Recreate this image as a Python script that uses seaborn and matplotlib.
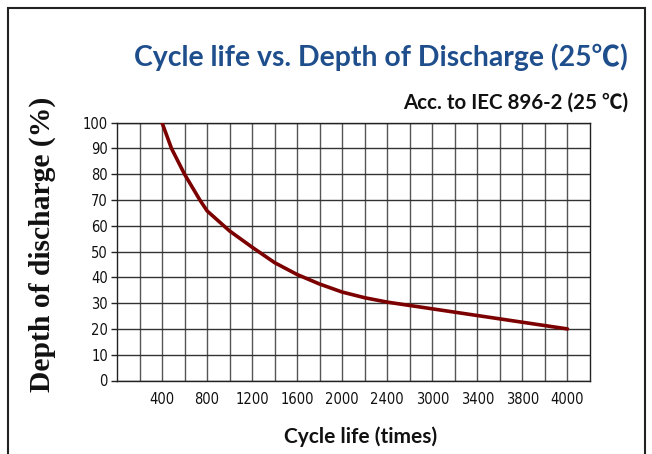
import numpy as np
import matplotlib
matplotlib.use("Agg")
import matplotlib.pyplot as plt
from matplotlib.patches import Rectangle
from matplotlib.ticker import FixedLocator, NullFormatter
import seaborn as sns

# ---- data ----
cycles = [400, 484, 600, 736, 800, 1000, 1200, 1400, 1600, 1800, 2000, 2200,
          2400, 2700, 3000, 3200, 3400, 3600, 3800, 3900, 4000]
dod = [100, 90, 80, 70, 65.8, 58, 51.7, 45.7, 41.1, 37.4, 34.3, 32.1,
       30.4, 29.1, 27.8, 26.5, 25.2, 23.9, 22.6, 21.3, 20]
x_ticks = [400, 800, 1200, 1600, 2000, 2400, 3000, 3400, 3800, 4000]
y_ticks = [0, 10, 20, 30, 40, 50, 60, 70, 80, 90, 100]

# axis scale: the chart's x axis is piecewise (grid columns of unequal width)
scale_cycles = [0, 2400, 3000, 3400, 3800, 4000, 4100]
scale_cols = [0, 12, 14, 16, 18, 20, 21]

def fwd(v):
    return np.interp(v, scale_cycles, scale_cols)

def inv(v):
    return np.interp(v, scale_cols, scale_cycles)

sns.set_theme(style="white")
plt.rcParams['font.family'] = ['DejaVu Sans']

W, H = 652, 454
fig = plt.figure(figsize=(W / 100, H / 100), dpi=100)
fig.patch.set_facecolor("white")

L, R, B, T = 117, 590, 380.5, 122.7
ax = fig.add_axes([L / W, 1 - B / H, (R - L) / W, (B - T) / H])

sns.lineplot(x=cycles, y=dod, ax=ax, color="#7c0000", linewidth=2.6,
             sort=False, zorder=5)

ax.set_xscale('function', functions=(fwd, inv))
ax.set_xlim(0, 4100)
ax.set_ylim(0, 100)

ax.xaxis.set_major_locator(FixedLocator(x_ticks))
ax.xaxis.set_minor_locator(FixedLocator(list(inv(np.arange(1, 21)))))
ax.xaxis.set_minor_formatter(NullFormatter())
ax.set_xticklabels([str(v) for v in x_ticks])
ax.set_yticks(y_ticks)
ax.set_yticklabels([str(v) for v in y_ticks])

tick_font = ['Liberation Sans Narrow', 'DejaVu Sans']
for lab in ax.get_xticklabels() + ax.get_yticklabels():
    lab.set_fontfamily(tick_font)
    lab.set_fontstretch('condensed')
    lab.set_fontsize(10.5)
    lab.set_color("#111111")

ax.tick_params(axis='x', which='both', length=0, pad=8)
ax.tick_params(axis='y', which='major', length=4.5, width=1.0, color="#222222",
               pad=2, left=True)

ax.grid(True, which='both', axis='x', color="#555555", linewidth=1.0)
ax.grid(True, which='major', axis='y', color="#333333", linewidth=1.0)
for s in ax.spines.values():
    s.set_color("#222222")
    s.set_linewidth(1.0)
ax.set_xlabel("")
ax.set_ylabel("")

# texts
fig.text(381 / W, 1 - 57 / H, "Cycle life vs. Depth of Discharge (25℃)",
         ha='center', va='center', fontsize=20.4, fontweight='bold',
         color="#1F4E8C", family=['Lato', 'Noto Sans CJK SC', 'DejaVu Sans'])
fig.text(628 / W, 1 - 103 / H, "Acc. to IEC 896-2 (25 ℃)",
         ha='right', va='center', fontsize=14.8, fontweight='bold',
         color="#111111", family=['Lato', 'Noto Sans CJK SC', 'DejaVu Sans'])
fig.text(361 / W, 1 - 437 / H, "Cycle life (times)",
         ha='center', va='center', fontsize=15, fontweight='bold',
         color="#111111", family=['Lato', 'DejaVu Sans'])
fig.text(42 / W, 1 - 244 / H, "Depth of discharge (%)",
         ha='center', va='center', rotation=90, fontsize=21.3,
         fontweight='bold', color="#111111",
         family=['Liberation Serif', 'DejaVu Serif'])

# outer frame
fig.patches.append(Rectangle((8 / W, -0.05), (645 - 8) / W, 1.05 - 8 / H,
                             transform=fig.transFigure, fill=False,
                             edgecolor="#222222", linewidth=1.5))

fig.savefig("out.png", dpi=100, facecolor="white")
